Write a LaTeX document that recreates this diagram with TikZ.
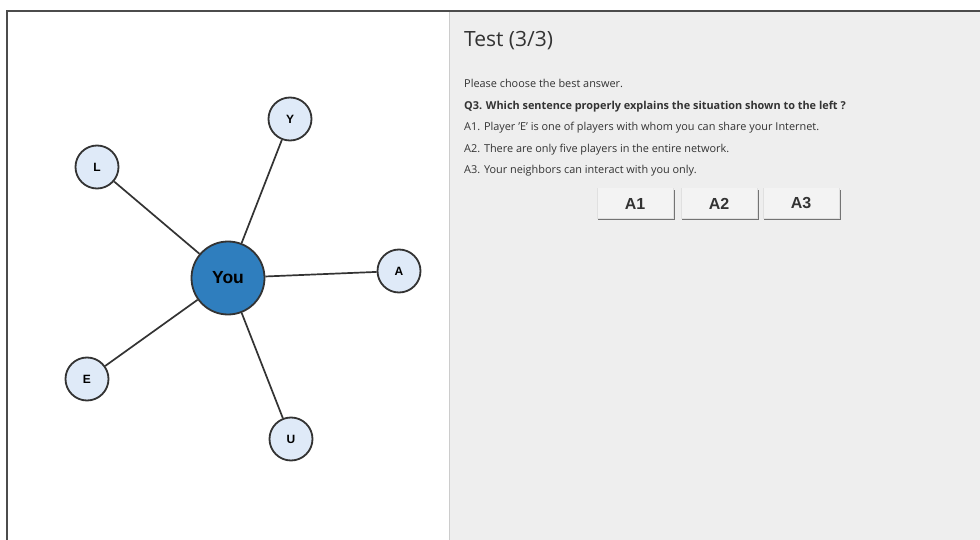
\documentclass[tikz,border=0pt]{standalone}
\usepackage{fontspec}
\setmainfont{Open Sans}
\newfontfamily\arialb{Liberation Sans}
\definecolor{panel}{HTML}{EEEEEE}
\definecolor{nodefill}{HTML}{DFEAF8}
\definecolor{youfill}{HTML}{2F7EBE}
\definecolor{edgecol}{HTML}{333333}
\definecolor{txt}{HTML}{333333}
\begin{document}
\begin{tikzpicture}[x=1pt,y=-1pt,
  player/.style={circle,draw=edgecol,line width=1.8pt,fill=nodefill,minimum size=43pt,inner sep=0pt,font=\arialb\bfseries\fontsize{12}{14}\selectfont},
  me/.style={circle,draw=edgecol,line width=1.8pt,fill=youfill,minimum size=73pt,inner sep=0pt,font=\arialb\bfseries\fontsize{17.5}{19}\selectfont},
  link/.style={draw=edgecol,line width=1.7pt},
  qline/.style={anchor=base west,text=txt,font=\fontsize{10.9}{12}\selectfont,inner sep=0pt},
  btn/.style={draw=none,fill=panel!70!white,minimum width=75pt,minimum height=30pt,inner sep=0pt,font=\arialb\bfseries\fontsize{16}{18}\selectfont,text=txt}
]
\useasboundingbox (0,0) rectangle (980,540);
\fill[white] (0,0) rectangle (980,540);
% right panel
\fill[panel] (449,11) rectangle (980,540);
\draw[black!20,line width=0.8pt] (449.5,11) -- (449.5,540);
% frame
\draw[black!70,line width=2pt] (7,540) -- (7,11) -- (980,11);

% graph
\node[me] (you) at (228,278) {You};
\node[player] (y) at (290,119) {Y};
\node[player] (l) at (97,167) {L};
\node[player] (a) at (399,271) {A};
\node[player] (e) at (87,379) {E};
\node[player] (u) at (291,439) {U};
\draw[link] (you) -- (y);
\draw[link] (you) -- (l);
\draw[link] (you) -- (a);
\draw[link] (you) -- (e);
\draw[link] (you) -- (u);

% text
\node[anchor=base west,inner sep=0pt,text=txt,font=\fontsize{21}{24}\selectfont] (title) at (464,47) {Test (3/3)};
\node[qline] (t1) at (464,88) {Please choose the best answer.};
\node[qline,font=\bfseries\fontsize{10.9}{12}\selectfont] (t2) at (464,109.5) {Q3. Which sentence properly explains the situation shown to the left ?};
\node[qline] (t3) at (464,131) {A1. Player 'E' is one of players with whom you can share your Internet.};
\node[qline] (t4) at (464,152.5) {A2. There are only five players in the entire network.};
\node[qline] (t5) at (464,174) {A3. Your neighbors can interact with you only.};

% buttons
\foreach \nm/\lab/\cx in {b1/A1/635, b2/A2/719, b3/A3/801}{
  \fill[black!55] (\cx-37,190) rectangle (\cx+39.5,220.5);
  \fill[black!12] (\cx-38,188) rectangle (\cx+38.5,219.5);
  \node[btn] (\nm) at (\cx,203.5) {\lab};
}
\end{tikzpicture}
\end{document}
